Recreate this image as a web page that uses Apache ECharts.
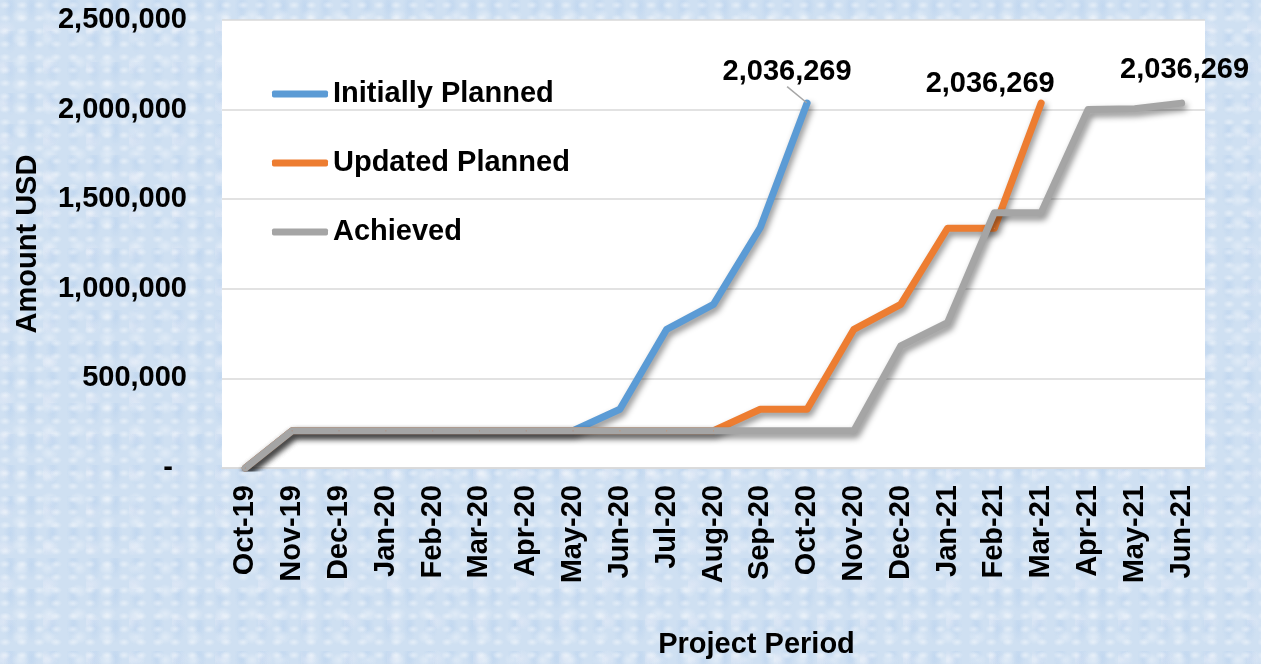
<!DOCTYPE html>
<html>
<head>
<meta charset="utf-8">
<script src="https://cdn.jsdelivr.net/npm/echarts@6/dist/echarts.min.js"></script>
<style>
html, body { margin:0; padding:0; width:1261px; height:664px; overflow:hidden; }
body {
  background-color:#cfe0f2;
  background-image:
    radial-gradient(ellipse at 30% 40%, rgba(255,255,255,0.45) 0, rgba(255,255,255,0) 6px),
    radial-gradient(ellipse at 70% 70%, rgba(255,255,255,0.35) 0, rgba(255,255,255,0) 9px),
    radial-gradient(ellipse at 50% 20%, rgba(170,200,235,0.35) 0, rgba(170,200,235,0) 7px),
    radial-gradient(ellipse at 10% 80%, rgba(240,240,250,0.4) 0, rgba(240,240,250,0) 12px);
  background-size: 17px 13px, 29px 23px, 21px 31px, 43px 37px;
}
#chart { width:1261px; height:664px; }
</style>
</head>
<body>
<div id="chart"></div>
<script>
const categories = ['Oct-19','Nov-19','Dec-19','Jan-20','Feb-20','Mar-20','Apr-20','May-20','Jun-20','Jul-20','Aug-20','Sep-20','Oct-20','Nov-20','Dec-20','Jan-21','Feb-21','Mar-21','Apr-21','May-21','Jun-21'];
const initiallyPlanned = [0,208000,208000,208000,208000,208000,208000,208000,328000,774000,913000,1342000,2036269];
const updatedPlanned = [0,208000,208000,208000,208000,208000,208000,208000,208000,208000,208000,328000,328000,774000,913000,1338000,1338000,2036269];
const achieved = [0,208000,208000,208000,208000,208000,208000,208000,208000,208000,208000,208000,208000,208000,681000,811000,1425000,1425000,2000000,2005000,2036269];
const yTicks = [0,500000,1000000,1500000,2000000,2500000];

const FONT = "'Liberation Sans', Arial, sans-serif";
const FS = 29;
const fmt = v => Number(v).toLocaleString('en-US');

function withEndLabel(arr) {
  return arr.map((v, i) => i === arr.length - 1 ? { value: v, label: { show: true } } : v);
}

const shadow = { shadowColor: 'rgba(0,0,0,0.45)', shadowBlur: 6, shadowOffsetX: 2, shadowOffsetY: 4 };

function makeSeries(name, data, color, layout, labelLine) {
  return {
    name: name,
    type: 'line',
    data: withEndLabel(data),
    symbol: 'circle',
    symbolSize: 1,
    showSymbol: true,
    itemStyle: { color: color },
    lineStyle: Object.assign({ color: color, width: 7, cap: 'round', join: 'round' }, shadow),
    emphasis: { disabled: true },
    label: {
      show: false,
      position: 'top',
      distance: 5,
      formatter: p => fmt(p.value),
      fontFamily: FONT, fontWeight: 'bold', fontSize: FS, color: '#000'
    },
    labelLayout: layout,
    labelLine: labelLine,
    z: 2
  };
}

const chart = echarts.init(document.getElementById('chart'));
chart.setOption({
  backgroundColor: 'transparent',
  animation: false,
  grid: { left: 222, right: 56, top: 20, bottom: 195, show: true, backgroundColor: '#ffffff', borderWidth: 0 },
  legend: {
    orient: 'vertical',
    left: 272, top: 79,
    padding: 0,
    icon: 'roundRect',
    itemWidth: 56, itemHeight: 7,
    itemGap: 39,
    textStyle: { fontFamily: FONT, fontWeight: 'bold', fontSize: FS, color: '#000', lineHeight: 30 },
    data: ['Initially Planned', 'Updated Planned', 'Achieved']
  },
  xAxis: {
    type: 'category',
    data: categories,
    boundaryGap: true,
    name: 'Project Period',
    nameLocation: 'middle',
    nameGap: 162,
    nameTextStyle: { fontFamily: FONT, fontWeight: 'bold', fontSize: FS, color: '#000', padding: [0, 0, 0, 86] },
    axisLine: { show: true, lineStyle: { color: '#d9d9d9', width: 1.5 } },
    axisTick: { show: false },
    axisLabel: { rotate: 90, margin: 17, interval: 0, fontFamily: FONT, fontWeight: 'bold', fontSize: FS, color: '#000' },
    splitLine: { show: false }
  },
  yAxis: {
    type: 'value',
    min: yTicks[0], max: yTicks[yTicks.length - 1], interval: yTicks[1] - yTicks[0],
    name: 'Amount USD',
    nameLocation: 'middle',
    nameGap: 180,
    nameRotate: 90,
    nameTextStyle: { fontFamily: FONT, fontWeight: 'bold', fontSize: FS, color: '#000' },
    axisLine: { show: false },
    axisTick: { show: false },
    axisLabel: {
      margin: 35,
      fontFamily: FONT, fontWeight: 'bold', fontSize: FS, color: '#000',
      formatter: v => v === 0 ? '{d|-}' : fmt(v),
      rich: { d: { fontFamily: FONT, fontWeight: 'bold', fontSize: FS, color: '#000', padding: [0, 14, 0, 0] } }
    },
    splitLine: { lineStyle: { color: '#d9d9d9', width: 1.5 } }
  },
  series: [
    makeSeries('Initially Planned', initiallyPlanned, '#5b9bd5', { dx: -20, dy: -11 }, { show: true, length2: 0, lineStyle: { color: '#a6a6a6', width: 1.5 } }),
    makeSeries('Updated Planned', updatedPlanned, '#ed7d31', { dx: -51, dy: 1 }, { show: false }),
    makeSeries('Achieved', achieved, '#a5a5a5', { dx: 3, dy: -13 }, { show: false })
  ]
});
</script>
</body>
</html>
